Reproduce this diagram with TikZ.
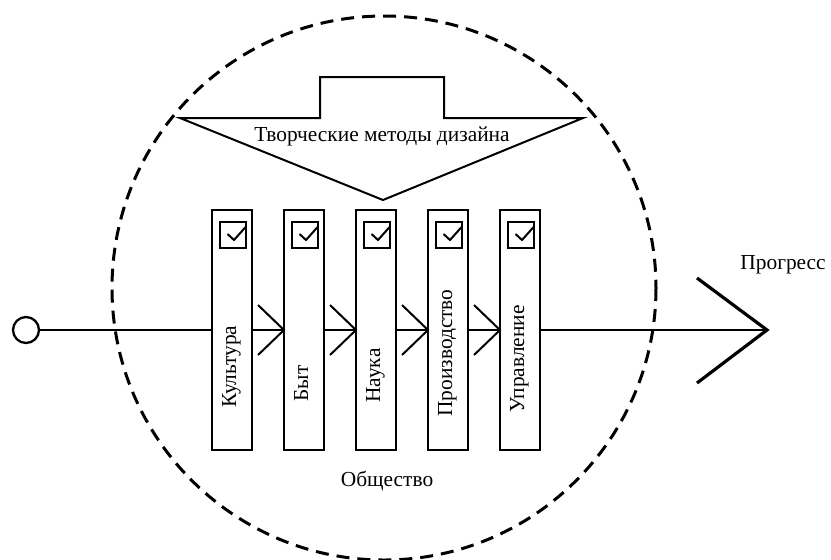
\documentclass[tikz,border=0pt]{standalone}
\usepackage{fontspec}
\setmainfont{Liberation Serif}
\usetikzlibrary{calc}

\begin{document}
\begin{tikzpicture}[x=0.5pt,y=-0.5pt,
        txt/.style={font=\fontsize{10.7}{13}\selectfont, inner sep=0pt},
        stagebox/.style={draw, line width=1pt, minimum width=20pt, minimum height=120pt, inner sep=0pt, outer sep=0pt},
        tickbox/.style={draw, line width=1pt, minimum size=13pt, inner sep=0pt, outer sep=0pt},
        axis/.style={line width=1.15pt},
        chevron/.style={line width=1pt}]
    \useasboundingbox (0,0) rectangle (831,559);
    \draw[dash pattern=on 6.5pt off 4pt, line width=1.5pt] (384,288) circle[radius=272];
    \draw[line width=1pt] (180,118) -- (320,118) -- (320,77) -- (444,77) -- (444,118)
        -- (583,118) -- (383,200) -- cycle;
    \node[txt] (methods) at (382,136) {Творческие методы дизайна};
    \node[draw, circle, line width=1.15pt, minimum size=13pt, inner sep=0pt, outer sep=0pt] (start) at (26,330) {};
    \foreach \i/\name/\lift in {1/Культура/42, 2/Быт/48, 3/Наука/47, 4/Производство/33, 5/Управление/37} {
        \node[stagebox] (b\i) at (160+72*\i,330) {};
        \node[tickbox] (c\i) at ($(b\i.north)+(1,25)$) {};
        \draw[line width=1pt] ($(c\i.center)+(-5.5,-1)$) -- ($(c\i.center)+(1,5)$) -- ($(c\i.center)+(13.5,-9)$);
        \node[txt, rotate=90, anchor=base west] (t\i) at ($(b\i.south)+(4,-\lift)$) {\name};
    }
    \foreach \i [count=\j from 2] in {1,...,4} {
        \draw[axis] (b\i.east) -- (b\j.west);
        \draw[chevron] ($(b\j.west)+(-26,-25)$) -- (b\j.west) -- ($(b\j.west)+(-26,25)$);
    }
    \coordinate (tip) at (767,330);
    \draw[axis] (start.east) -- (b1.west);
    \draw[axis] (b5.east) -- (tip);
    \draw[line width=1.6pt] ($(tip)+(-70,-52)$) -- (tip) -- ($(tip)+(-70,53)$);
    \node[txt, anchor=west] (progress) at (740,265) {Прогресс};
    \node[txt] (society) at (387,481) {Общество};
\end{tikzpicture}
\end{document}
